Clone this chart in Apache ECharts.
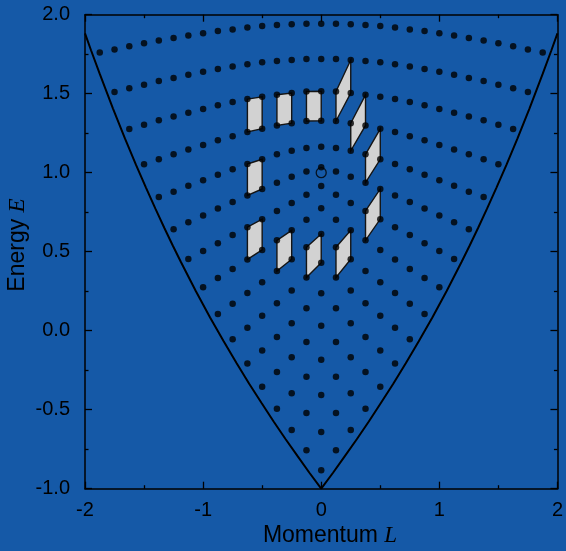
<!DOCTYPE html>
<html><head><meta charset="utf-8">
<script src="https://cdn.jsdelivr.net/npm/echarts@6/dist/echarts.min.js"></script>
<style>html,body{margin:0;padding:0;background:#1559a7;}#c{width:566px;height:551px;}</style>
</head><body><div id="c"></div>
<script>
// Momentum lattice values (L = m * hbar, hbar = 1/8), m = -15 .. 15
const momentumL = [-1.875,-1.75,-1.625,-1.5,-1.375,-1.25,-1.125,-1,-0.875,-0.75,-0.625,-0.5,-0.375,-0.25,-0.125,0,0.125,0.25,0.375,0.5,0.625,0.75,0.875,1,1.125,1.25,1.375,1.5,1.625,1.75,1.875];

// Energy levels, one array per level l, listed for m = -l .. l
const E_l0  = [-0.884];
const E_l1  = [-0.757,-0.641,-0.757];
const E_l2  = [-0.628,-0.521,-0.407,-0.521,-0.628];
const E_l3  = [-0.494,-0.396,-0.291,-0.184,-0.291,-0.396,-0.494];
const E_l4  = [-0.354,-0.261,-0.168,-0.072,0.032,-0.072,-0.168,-0.261,-0.354];
const E_l5  = [-0.208,-0.125,-0.040,0.047,0.142,0.237,0.142,0.047,-0.040,-0.125,-0.208];
const E_l6  = [-0.054,0.019,0.095,0.173,0.254,0.337,0.430,0.337,0.254,0.173,0.095,0.019,-0.054];
const E_l7  = [0.106,0.171,0.238,0.306,0.378,0.452,0.528,0.612,0.528,0.452,0.378,0.306,0.238,0.171,0.106];
const E_l8  = [0.275,0.334,0.391,0.451,0.511,0.572,0.635,0.703,0.775,0.703,0.635,0.572,0.511,0.451,0.391,0.334,0.275];
const E_l9  = [0.454,0.504,0.553,0.606,0.655,0.706,0.758,0.808,0.861,0.916,0.861,0.808,0.758,0.706,0.655,0.606,0.553,0.504,0.454];
const E_l10 = [0.642,0.686,0.729,0.773,0.815,0.856,0.897,0.937,0.975,1.008,1.034,1.008,0.975,0.937,0.897,0.856,0.815,0.773,0.729,0.686,0.642];
const E_l11 = [0.846,0.880,0.918,0.952,0.987,1.022,1.055,1.085,1.116,1.139,1.156,1.165,1.156,1.139,1.116,1.085,1.055,1.022,0.987,0.952,0.918,0.880,0.846];
const E_l12 = [1.053,1.085,1.116,1.147,1.175,1.205,1.230,1.258,1.278,1.299,1.313,1.327,1.329,1.327,1.313,1.299,1.278,1.258,1.230,1.205,1.175,1.147,1.116,1.085,1.053];
const E_l13 = [1.277,1.303,1.332,1.356,1.380,1.403,1.427,1.447,1.466,1.481,1.493,1.504,1.514,1.515,1.514,1.504,1.493,1.481,1.466,1.447,1.427,1.403,1.380,1.356,1.332,1.303,1.277];
const E_l14 = [1.511,1.534,1.557,1.580,1.599,1.620,1.639,1.656,1.672,1.686,1.699,1.707,1.713,1.720,1.720,1.720,1.713,1.707,1.699,1.686,1.672,1.656,1.639,1.620,1.599,1.580,1.557,1.534,1.511];
const E_l15 = [1.761,1.780,1.801,1.820,1.837,1.853,1.868,1.883,1.897,1.907,1.919,1.928,1.935,1.939,1.943,1.943,1.943,1.939,1.935,1.928,1.919,1.907,1.897,1.883,1.868,1.853,1.837,1.820,1.801,1.780,1.761];
const levels = [E_l0,E_l1,E_l2,E_l3,E_l4,E_l5,E_l6,E_l7,E_l8,E_l9,E_l10,E_l11,E_l12,E_l13,E_l14,E_l15];

// Lattice cells (corners given as [m, l] lattice indices)
const cells = [
  [[-5,13],[-4,13],[-4,12],[-5,12]],
  [[-3,13],[-2,13],[-2,12],[-3,12]],
  [[-1,13],[0,13],[0,12],[-1,12]],
  [[1,13],[2,14],[2,13],[1,12]],
  [[2,12],[3,13],[3,12],[2,11]],
  [[3,11],[4,12],[4,11],[3,10]],
  [[3,9],[4,10],[4,9],[3,8]],
  [[-5,11],[-4,11],[-4,10],[-5,10]],
  [[-5,9],[-4,9],[-4,8],[-5,8]],
  [[-3,8],[-2,8],[-2,7],[-3,7]],
  [[-1,7],[0,7],[0,6],[-1,6]],
  [[1,7],[2,8],[2,7],[1,6]]
];

// Boundary (critical values) curve
const boundaryL = [-2.0,-1.949,-1.875,-1.763,-1.662,-1.569,-1.483,-1.403,-1.328,-1.257,-1.189,-1.061,-0.941,-0.826,-0.716,-0.610,-0.505,-0.403,-0.301,-0.200,-0.100,0,0.100,0.200,0.301,0.403,0.505,0.610,0.716,0.826,0.941,1.061,1.189,1.257,1.328,1.403,1.483,1.569,1.662,1.763,1.875,1.949,2.0];
const boundaryE = [1.882,1.775,1.625,1.406,1.217,1.051,0.904,0.771,0.650,0.539,0.436,0.250,0.084,-0.067,-0.206,-0.336,-0.458,-0.575,-0.687,-0.794,-0.899,-1.0,-0.899,-0.794,-0.687,-0.575,-0.458,-0.336,-0.206,-0.067,0.084,0.250,0.436,0.539,0.650,0.771,0.904,1.051,1.217,1.406,1.625,1.775,1.882];

// Singular point
const singularPoint = [[0, 1.0]];

const xTicks = ['-2','-1','0','1','2'];
const yTicks = ['-1.0','-0.5','0.0','0.5','1.0','1.5','2.0'];

function latticePoint(m, l) { return [momentumL[m + 15], levels[l][m + l]]; }
const dots = [];
levels.forEach((row, l) => row.forEach((e, k) => dots.push([momentumL[15 - l + k], e])));
const cellData = cells.map(c => c.reduce((acc, [m, l]) => acc.concat(latticePoint(m, l)), []));
const boundary = boundaryL.map((L, i) => [L, boundaryE[i]]);

const SANS = '"Liberation Sans", Arial, Helvetica, sans-serif';
const SERIF = '"Liberation Serif", "Times New Roman", serif';
const axisCommon = {
  type: 'value',
  axisLine: { show: true, onZero: false, lineStyle: { color: '#000', width: 1.5 } },
  axisTick: { show: true, inside: true, length: 7, lineStyle: { color: '#000', width: 1.3 } },
  minorTick: { show: true, splitNumber: 2, length: 3.5, lineStyle: { color: '#000', width: 1.3 } },
  splitLine: { show: false }, minorSplitLine: { show: false }
};
function xAx(pos, showLabel) {
  return Object.assign({}, axisCommon, {
    position: pos, min: -2, max: 2, interval: 1,
    axisLabel: { show: showLabel, color: '#000', fontSize: 20, fontFamily: SANS, margin: 12,
      formatter: v => xTicks[Math.round(v + 2)] }
  });
}
function yAx(pos, showLabel) {
  return Object.assign({}, axisCommon, {
    position: pos, min: -1, max: 2, interval: 0.5,
    axisLabel: { show: showLabel, color: '#000', fontSize: 20, fontFamily: SANS, margin: 15,
      formatter: v => yTicks[Math.round((v + 1) * 2)] }
  });
}

const chart = echarts.init(document.getElementById('c'), null, { renderer: 'canvas' });
chart.setOption({
  animation: false,
  backgroundColor: '#1559a7',
  grid: { left: 85, right: 6.5, top: 14.7, bottom: 62.3, containLabel: false },
  xAxis: [xAx('bottom', true), xAx('top', false)],
  yAxis: [yAx('left', true), yAx('right', false)],
  graphic: [
    { type: 'text', x: 330, y: 536, z: 10,
      style: { text: 'Momentum {i|L}', fill: '#000', font: '23px ' + SANS, align: 'center', verticalAlign: 'middle',
        rich: { i: { fontFamily: SERIF, fontStyle: 'italic', fontSize: 23, fill: '#000' } } } },
    { type: 'text', x: 17.5, y: 245, rotation: Math.PI / 2, z: 10,
      style: { text: 'Energy {i|E}', fill: '#000', font: '23px ' + SANS, align: 'center', verticalAlign: 'middle',
        rich: { i: { fontFamily: SERIF, fontStyle: 'italic', fontSize: 23, fill: '#000' } } } }
  ],
  series: [
    { type: 'custom', z: 1, data: cellData,
      encode: { x: [0, 2, 4, 6], y: [1, 3, 5, 7] },
      renderItem: function (params, api) {
        const pts = [];
        for (let i = 0; i < 4; i++) pts.push(api.coord([api.value(2 * i), api.value(2 * i + 1)]));
        return { type: 'polygon', shape: { points: pts },
          style: { fill: '#d2d2d2', stroke: '#151515', lineWidth: 1.4 } };
      } },
    { type: 'line', z: 2, data: boundary, showSymbol: false, symbol: 'none', smooth: false,
      lineStyle: { color: '#000', width: 2 } },
    { type: 'scatter', z: 3, data: dots, symbol: 'circle', symbolSize: 6.5,
      itemStyle: { color: '#000' } },
    { type: 'scatter', z: 4, data: singularPoint, symbol: 'circle', symbolSize: 10,
      itemStyle: { color: 'rgba(0,0,0,0)', borderColor: '#000', borderWidth: 1.3 } }
  ]
});
</script>
</body></html>
